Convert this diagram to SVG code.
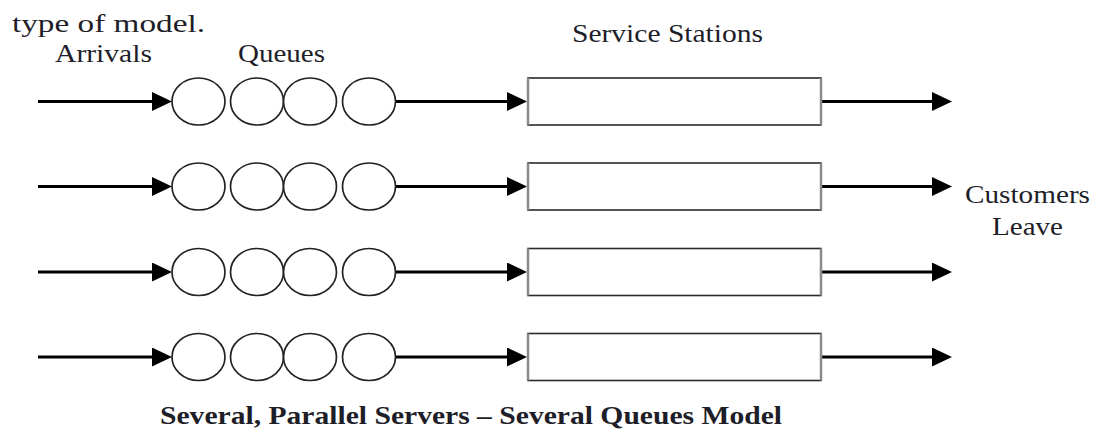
<svg xmlns="http://www.w3.org/2000/svg" width="1096" height="431" viewBox="0 0 1096 431">
<defs>
<style>
.t{font-family:"Liberation Serif","Times New Roman",serif;font-size:25px;fill:#1e1e28}
.title{font-family:"Liberation Serif","Times New Roman",serif;font-size:26px;font-weight:bold;fill:#1e1e28}
.q{fill:#fff;stroke:#222;stroke-width:1.7}
.box{fill:#fff;stroke:#2a2a2a;stroke-width:1.6}
.edge{stroke:#8a8a8a;stroke-width:2.5;fill:none}
.c{stroke:#000;stroke-width:3;fill:none;marker-end:url(#ah)}
</style>
<marker id="ah" markerUnits="userSpaceOnUse" markerWidth="20" markerHeight="19" refX="12" refY="9.5" orient="auto">
<path d="M0,0 L20,9.5 L0,19 z" fill="#000"/>
</marker>
<g id="queue">
<ellipse class="q" cx="198.5" cy="0" rx="26.5" ry="23.5"/>
<ellipse class="q" cx="257" cy="0" rx="26.5" ry="23.5"/>
<ellipse class="q" cx="310" cy="0" rx="26.5" ry="23.5"/>
<ellipse class="q" cx="369" cy="0" rx="26.5" ry="23.5"/>
</g>
<g id="station">
<rect class="box" x="528" y="-23.5" width="293" height="47"/>
<line class="edge" x1="528" y1="-23.5" x2="528" y2="23.5"/>
<line class="edge" x1="821" y1="-23.5" x2="821" y2="23.5"/>
</g>
</defs>

<text class="t" x="12" y="32" textLength="193" lengthAdjust="spacingAndGlyphs">type of model.</text>
<text class="t" x="55" y="62" textLength="97" lengthAdjust="spacingAndGlyphs">Arrivals</text>
<text class="t" x="238" y="62" textLength="87" lengthAdjust="spacingAndGlyphs">Queues</text>
<text class="t" x="572" y="42" textLength="191" lengthAdjust="spacingAndGlyphs">Service Stations</text>
<text class="t" x="965" y="203" textLength="125" lengthAdjust="spacingAndGlyphs">Customers</text>
<text class="t" x="992" y="235" textLength="71" lengthAdjust="spacingAndGlyphs">Leave</text>
<text class="title" x="160" y="424" textLength="622" lengthAdjust="spacingAndGlyphs">Several, Parallel Servers – Several Queues Model</text>

<g id="connectors">
<line class="c" x1="38" y1="101.5" x2="164" y2="101.5"/>
<line class="c" x1="395.5" y1="101.5" x2="519" y2="101.5"/>
<line class="c" x1="817" y1="101.5" x2="944" y2="101.5"/>
<line class="c" x1="38" y1="186.5" x2="164" y2="186.5"/>
<line class="c" x1="395.5" y1="186.5" x2="519" y2="186.5"/>
<line class="c" x1="817" y1="186.5" x2="944" y2="186.5"/>
<line class="c" x1="38" y1="272" x2="164" y2="272"/>
<line class="c" x1="395.5" y1="272" x2="519" y2="272"/>
<line class="c" x1="817" y1="272" x2="944" y2="272"/>
<line class="c" x1="38" y1="357" x2="164" y2="357"/>
<line class="c" x1="395.5" y1="357" x2="519" y2="357"/>
<line class="c" x1="817" y1="357" x2="944" y2="357"/>
</g>

<g id="queue1"><use href="#queue" y="101.5"/></g>
<g id="queue2"><use href="#queue" y="186.5"/></g>
<g id="queue3"><use href="#queue" y="272"/></g>
<g id="queue4"><use href="#queue" y="357"/></g>
<g id="station1"><use href="#station" y="101.5"/></g>
<g id="station2"><use href="#station" y="186.5"/></g>
<g id="station3"><use href="#station" y="272"/></g>
<g id="station4"><use href="#station" y="357"/></g>
</svg>
